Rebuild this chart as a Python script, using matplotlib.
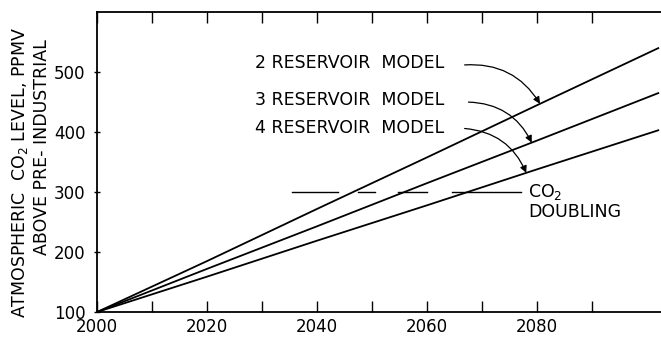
import numpy as np
import matplotlib.pyplot as plt

# Projected atmospheric CO2 rise above pre-industrial (ppmv)
years = [2000, 2020, 2040, 2060, 2080, 2102]
res2 = [100, 185, 272, 358, 445, 540]
res3 = [100, 172, 243, 315, 386, 465]
res4 = [100, 159, 219, 278, 338, 403]

model_labels = ["2 RESERVOIR  MODEL", "3 RESERVOIR  MODEL", "4 RESERVOIR  MODEL"]

DOUBLING = 300
# pieces of the broken doubling line (start year, end year)
doubling_pieces = [(2035.5, 2043.8), (2047.5, 2050.5), (2054.7, 2060.0), (2064.5, 2077.0)]

x_ticks = list(range(2000, 2091, 10))
x_ticklabels = [str(t) if t % 20 == 0 else "" for t in x_ticks]
y_ticks = [100, 200, 300, 400, 500]

plt.rcParams['font.family'] = 'DejaVu Sans'

fig = plt.figure(figsize=(6.61, 3.38), dpi=100)
ax = fig.add_axes([0.147, 0.077, 0.853, 0.887])

for vals in (res2, res3, res4):
    ax.plot(years, vals, color="black", lw=1.3)

for x0, x1 in doubling_pieces:
    ax.plot([x0, x1], [DOUBLING, DOUBLING], color="black", lw=1.0)

ax.set_xlim(2000, 2102.5)
ax.set_ylim(100, 600)

ax.set_xticks(x_ticks)
ax.set_xticklabels(x_ticklabels)
ax.set_yticks(y_ticks)
ax.tick_params(axis="x", direction="in", length=8, width=1.0, top=True,
               labelsize=12, pad=4)
ax.tick_params(axis="y", direction="inout", length=5, width=1.0,
               labelsize=12, pad=6)
ax.spines["right"].set_visible(False)
for s in ("left", "bottom", "top"):
    ax.spines[s].set_linewidth(1.3)

# model labels with curved leaders to each curve
label_pos = [(2028.7, 515), (2028.7, 453), (2028.7, 407)]
leader_start = [(2066.8, 512), (2067.5, 450), (2066.8, 406)]
leader_tip_x = [2080.5, 2079.0, 2078.0]
for lab, (tx, ty), (sx, sy), tipx, vals in zip(model_labels, label_pos, leader_start,
                                              leader_tip_x, (res2, res3, res4)):
    ax.text(tx, ty, lab, fontsize=12.5, va="center", ha="left")
    tipy = np.interp(tipx, years, vals)
    ax.annotate("", xy=(tipx, tipy), xytext=(sx, sy),
                arrowprops=dict(arrowstyle="-|>", color="black", lw=0.9,
                                mutation_scale=10,
                                connectionstyle="arc3,rad=-0.3",
                                shrinkA=0, shrinkB=0))

ax.text(2078.3, DOUBLING, "CO$_2$", fontsize=12.5, va="center", ha="left")
ax.text(2078.3, 267, "DOUBLING", fontsize=12.5, va="center", ha="left")

fig.text(0.030, 0.49, "ATMOSPHERIC  CO$_2$ LEVEL, PPMV", rotation=90,
         fontsize=12.5, ha="center", va="center")
fig.text(0.063, 0.565, "ABOVE PRE- INDUSTRIAL", rotation=90,
         fontsize=12.5, ha="center", va="center")

fig.savefig("out.png", dpi=100)
